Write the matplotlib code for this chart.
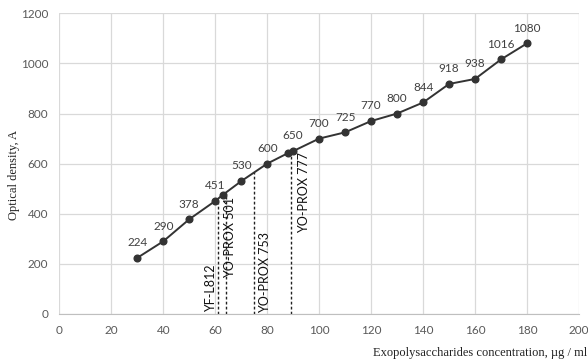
import numpy as np
import matplotlib.pyplot as plt

# measured curve
conc = [30, 40, 50, 60, 63, 70, 80, 88, 90, 100, 110, 120, 130, 140, 150, 160, 170, 180]
density = [224, 290, 378, 451, 476, 530, 600, 642, 650, 700, 725, 770, 800, 844, 918, 938, 1016, 1080]
point_labels = ['224', '290', '378', '451', '', '530', '600', '', '650', '700', '725', '770',
                '800', '844', '918', '938', '1016', '1080']

# samples
sample_names = ['YF-L812', 'YO-PROX 501', 'YO-PROX 753', 'YO-PROX 777']
sample_conc = [61, 64, 75, 89]
name_x = [58.4, 65.8, 79.2, 94.0]
name_y = [8, 145, 5, 325]

fig = plt.figure(figsize=(5.88, 3.64), dpi=100)
ax = fig.add_axes([0.1009, 0.1374, 0.8838, 0.8261])

ax.plot(conc, density, color='#333333', lw=1.4, marker='o', ms=4.8, zorder=3)
for x, y, s in zip(conc, density, point_labels):
    if s:
        ax.annotate(s, (x, y), xytext=(0, 7), textcoords='offset points',
                    ha='center', va='bottom', fontsize=8.5, family='Lato', color='#404040')

for x, nx, ny, name in zip(sample_conc, name_x, name_y, sample_names):
    top = np.interp(x, conc, density)
    ax.plot([x, x], [0, top], color='#222222', lw=1, ls=(0, (2, 1.6)), zorder=2)
    ax.text(nx, ny, name, rotation=90, ha='center', va='bottom', fontsize=9,
            family='Lato', color='#111111')

ax.set_xlim(0, 200)
ax.set_ylim(0, 1200)
ax.set_xticks(range(0, 201, 20))
ax.set_yticks(range(0, 1201, 200))
ax.grid(True, color='#d9d9d9', lw=0.9)
ax.set_axisbelow(True)
for sp in ['top', 'right', 'left']:
    ax.spines[sp].set_visible(False)
ax.spines['bottom'].set_color('#bfbfbf')
ax.tick_params(length=0, labelsize=8.5, labelcolor='#595959', pad=8)
for lab in ax.get_xticklabels() + ax.get_yticklabels():
    lab.set_family('Lato')

fig.text(0.024, 0.52, 'Optical density, A', rotation=90, ha='center', va='center',
         fontsize=9, family='Liberation Serif', color='#222222')
fig.text(0.998, 0.03, 'Exopolysaccharides concentration, µg / ml', ha='right', va='center',
         fontsize=9, family='Liberation Serif', color='#222222')

fig.savefig('out.png', dpi=100)
